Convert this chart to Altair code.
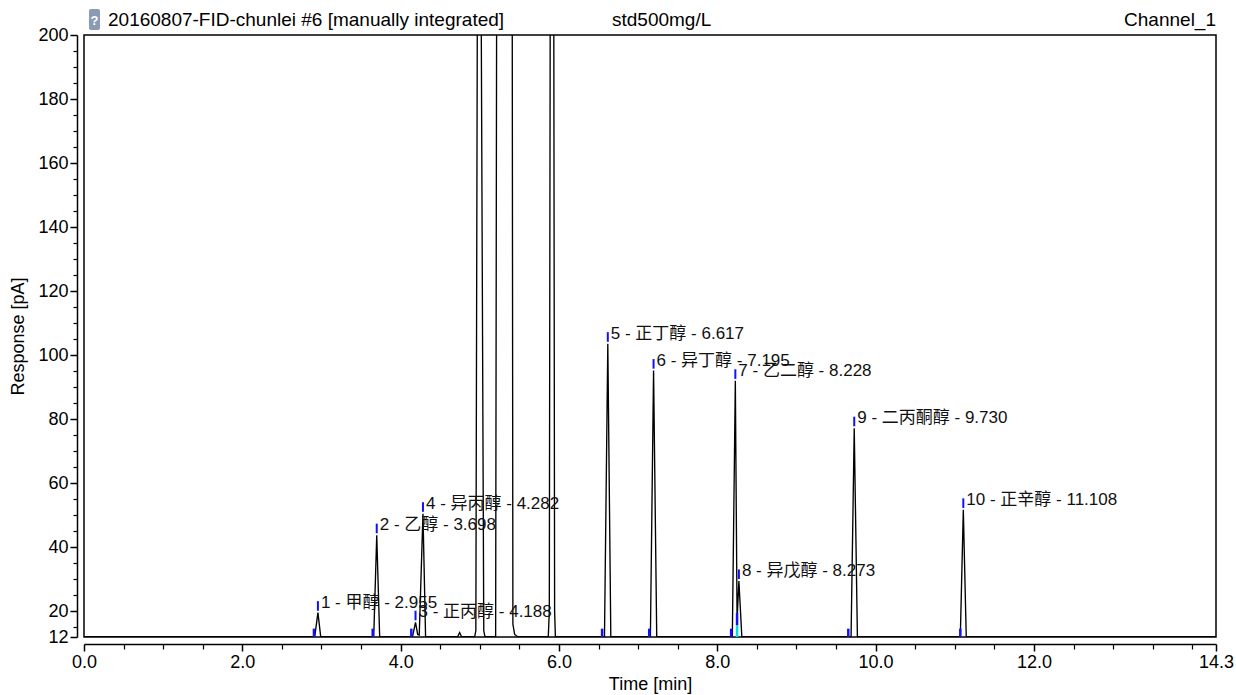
import altair as alt
import pandas as pd

# ---------------- data ----------------
# chromatogram trace (time [min], response [pA])
trace_t = [0.0,
           2.915, 2.955, 2.990,
           3.660, 3.698, 3.735,
           4.150, 4.188, 4.215, 4.235, 4.282, 4.315,
           4.720, 4.745, 4.770,
           4.935, 4.950, 4.968, 4.990, 5.019, 5.050, 5.065,
           5.200, 5.212, 5.220, 5.405, 5.410, 5.418, 5.440, 5.480,
           5.865, 5.878, 5.889, 5.910, 5.935, 5.945, 5.955,
           6.575, 6.617, 6.655,
           7.155, 7.195, 7.235,
           8.190, 8.228, 8.250, 8.273, 8.310,
           9.690, 9.730, 9.770,
           11.070, 11.108, 11.145,
           14.3]
trace_r = [12.1,
           12.1, 19.6, 12.1,
           12.1, 43.8, 12.1,
           12.1, 16.6, 12.8, 12.6, 50.5, 12.1,
           12.1, 13.4, 12.1,
           12.1, 14.0, 200.0, 360.0, 200.0, 14.0, 12.1,
           12.1, 200.0, 320.0, 320.0, 200.0, 16.0, 12.8, 12.1,
           12.1, 20.0, 200.0, 320.0, 200.0, 20.0, 12.1,
           12.1, 103.6, 12.1,
           12.1, 95.2, 12.1,
           12.1, 92.0, 17.5, 29.5, 12.1,
           12.1, 77.2, 12.1,
           12.1, 51.7, 12.1,
           12.1]

# identified peaks
peak_no = [1, 2, 3, 4, 5, 6, 7, 8, 9, 10]
peak_name = ["甲醇", "乙醇", "正丙醇", "异丙醇", "正丁醇", "异丁醇",
             "乙二醇", "异戊醇", "二丙酮醇", "正辛醇"]
peak_rt = [2.955, 3.698, 4.188, 4.282, 6.617, 7.195, 8.228, 8.273, 9.730, 11.108]
peak_height = [19.6, 43.8, 16.6, 50.5, 103.6, 95.2, 92.0, 29.5, 77.2, 51.7]

# integration start markers on the baseline
start_t = [2.905, 3.647, 4.135, 6.545, 7.140, 8.175, 9.655, 11.070]
valley_t = [8.250]

# axis tick values
x_major = [0.0, 2.0, 4.0, 6.0, 8.0, 10.0, 12.0, 14.3]
x_minor = [0.5, 1.0, 1.5, 2.5, 3.0, 3.5, 4.5, 5.0, 5.5, 6.5, 7.0, 7.5,
           8.5, 9.0, 9.5, 10.5, 11.0, 11.5, 12.5, 13.0, 13.5, 14.0]
y_major = [12, 20, 40, 60, 80, 100, 120, 140, 160, 180, 200]
y_minor = [15, 25, 30, 35, 45, 50, 55, 65, 70, 75, 85, 90, 95, 105, 110, 115,
           125, 130, 135, 145, 150, 155, 165, 170, 175, 185, 190, 195]

header_left = "20160807-FID-chunlei #6 [manually integrated]"
header_mid = "std500mg/L"
header_right = "Channel_1"

# ---------------- chart ----------------
FONT = "Liberation Sans, Arial, Noto Sans CJK SC"
W, H = 1132, 602
xscale = alt.Scale(domain=[0, 14.3], nice=False, zero=False)
yscale = alt.Scale(domain=[12, 200], nice=False, zero=False)

trace_df = pd.DataFrame({"t": trace_t, "r": trace_r, "i": list(range(len(trace_t)))})
peaks_df = pd.DataFrame({"no": peak_no, "name": peak_name, "rt": peak_rt, "h": peak_height})
peaks_df["label"] = [f"{n} - {nm} - {rt:.3f}" for n, nm, rt in zip(peak_no, peak_name, peak_rt)]

trace = alt.Chart(trace_df).mark_line(color="black", strokeWidth=1.35, clip=True).encode(
    x=alt.X("t:Q", scale=xscale, title="Time [min]",
            axis=alt.Axis(values=x_major, format=".1f", orient="bottom", offset=7,
                          tickSize=7, tickWidth=1.5, domainWidth=1.5, grid=False,
                          labelPadding=2, titlePadding=4, labelFlush=False,
                          labelOverlap=False)),
    y=alt.Y("r:Q", scale=yscale, title="Response [pA]",
            axis=alt.Axis(values=y_major, format="d", orient="left", offset=7,
                          tickSize=7, tickWidth=1.5, domainWidth=1.5, grid=False,
                          labelPadding=2, titlePadding=10, labelOverlap=False,
                          labelFlush=False)),
    order="i:Q",
)

xminor = alt.Chart(pd.DataFrame({"m": x_minor})).mark_point(opacity=0).encode(
    x=alt.X("m:Q", scale=xscale, title=None,
            axis=alt.Axis(values=x_minor, labels=False, orient="bottom", offset=7,
                          tickSize=5, tickWidth=1.2, domain=False, grid=False)),
)
yminor = alt.Chart(pd.DataFrame({"m": y_minor})).mark_point(opacity=0).encode(
    y=alt.Y("m:Q", scale=yscale, title=None,
            axis=alt.Axis(values=y_minor, labels=False, orient="left", offset=7,
                          tickSize=4, tickWidth=1.2, domain=False, grid=False)),
)

starts = alt.Chart(pd.DataFrame({"t": start_t})).transform_calculate(
    y0="12", y1="14.6"
).mark_rule(color="#1010ff", strokeWidth=2.5).encode(
    x=alt.X("t:Q", scale=xscale, axis=None),
    y=alt.Y("y0:Q", scale=yscale, axis=None),
    y2="y1:Q",
)
valley_c = alt.Chart(pd.DataFrame({"t": valley_t})).transform_calculate(
    y0="12", y1="15.7"
).mark_rule(color="#00e0e0", strokeWidth=2.5).encode(
    x=alt.X("t:Q", scale=xscale, axis=None),
    y=alt.Y("y0:Q", scale=yscale, axis=None),
    y2="y1:Q",
)
valley_b = alt.Chart(pd.DataFrame({"t": valley_t})).transform_calculate(
    y0="15.7", y1="19.5"
).mark_rule(color="#1010ff", strokeWidth=2.5).encode(
    x=alt.X("t:Q", scale=xscale, axis=None),
    y=alt.Y("y0:Q", scale=yscale, axis=None),
    y2="y1:Q",
)

lab_marks = alt.Chart(peaks_df).transform_calculate(
    y0="datum.h + 0.6", y1="datum.h + 3.6"
).mark_rule(color="#1010ff", strokeWidth=2).encode(
    x=alt.X("rt:Q", scale=xscale, axis=None),
    y=alt.Y("y0:Q", scale=yscale, axis=None),
    y2="y1:Q",
)
lab_text = alt.Chart(peaks_df).transform_calculate(
    ty="datum.h + 3.1"
).mark_text(align="left", baseline="middle", dx=3, fontSize=17, font=FONT,
            color="#111111").encode(
    x=alt.X("rt:Q", scale=xscale, axis=None),
    y=alt.Y("ty:Q", scale=yscale, axis=None),
    text="label:N",
)

one = pd.DataFrame({"a": [0]})
hdr_left = alt.Chart(one).mark_text(align="left", baseline="middle", fontSize=19,
                                    font=FONT, color="black", text=header_left).encode(
    x=alt.value(24), y=alt.value(-15))
hdr_mid = alt.Chart(one).mark_text(align="left", baseline="middle", fontSize=19,
                                   font=FONT, color="black", text=header_mid).encode(
    x=alt.value(528), y=alt.value(-15))
hdr_right = alt.Chart(one).mark_text(align="right", baseline="middle", fontSize=19,
                                     font=FONT, color="black", text=header_right).encode(
    x=alt.value(W), y=alt.value(-15))
icon = alt.Chart(one).mark_rect(color="#8a9bb5", cornerRadius=2).encode(
    x=alt.value(5), x2=alt.value(16), y=alt.value(-26), y2=alt.value(-5))
icon_q = alt.Chart(one).mark_text(align="center", baseline="middle", fontSize=13,
                                  font=FONT, color="white", fontWeight="bold",
                                  text="?").encode(
    x=alt.value(10.5), y=alt.value(-14))

chart = alt.layer(
    trace, xminor, yminor, starts, valley_c, valley_b, lab_marks, lab_text,
    icon, icon_q, hdr_left, hdr_mid, hdr_right,
).resolve_axis(
    x="independent", y="independent"
).properties(
    width=W, height=H,
    autosize=alt.AutoSizeParams(type="none"),
    padding={"left": 84, "top": 35, "right": 20, "bottom": 58},
    background="white",
).configure_view(
    stroke="black", strokeWidth=1.5,
).configure_axis(
    labelFont=FONT, titleFont=FONT, labelFontSize=18, titleFontSize=18,
    titleFontWeight="normal", labelColor="black", titleColor="black",
    domainColor="black", tickColor="black",
)

chart.save("out.html", embed_options={"renderer": "svg", "actions": False})
